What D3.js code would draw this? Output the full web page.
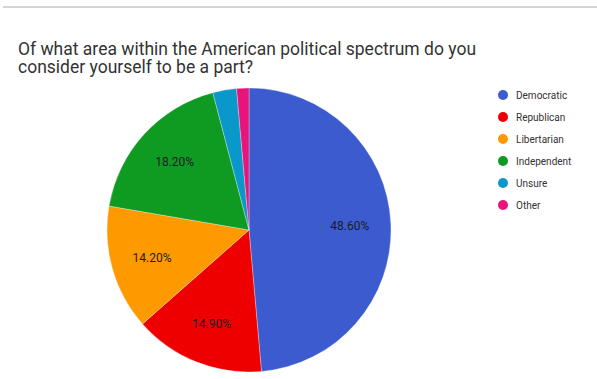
<!DOCTYPE html>
<html>
<head>
<meta charset="utf-8">
<script src="https://cdn.jsdelivr.net/npm/d3@7"></script>
<style>
  body { margin: 0; background: #fff; }
  svg { display: block; font-family: Roboto, Arial, sans-serif; }
</style>
</head>
<body>
<div id="container"></div>
<script>
/* CONSTANTS AND GLOBALS */
const width = 597,
  height = 379;

/* DATA */
const parties = ['Democratic', 'Republican', 'Libertarian', 'Independent', 'Unsure', 'Other'];
const shares = [48.6, 14.9, 14.2, 18.2, 2.7, 1.4];
const colors = ['#3b5bcf', '#ee0000', '#ff9900', '#0f9a22', '#0a97c9', '#e8147a'];
const titleLines = [
  'Of what area within the American political spectrum do you',
  'consider yourself to be a part?'
];

const data = parties.map((p, i) => ({ party: p, value: shares[i], color: colors[i] }));

// CREATE SVG ELEMENT
const svg = d3.select('#container')
  .append('svg')
  .attr('width', width)
  .attr('height', height);

// top rule
svg.append('rect')
  .attr('x', 3).attr('y', 6)
  .attr('width', width - 3).attr('height', 2)
  .attr('fill', '#d4d4d4');

// TITLE
svg.append('text')
  .attr('x', 18).attr('y', 55)
  .attr('font-size', 17.5)
  .attr('fill', '#333')
  .selectAll('tspan')
  .data(titleLines)
  .join('tspan')
  .attr('x', 18)
  .attr('dy', (d, i) => i === 0 ? 0 : 18)
  .text(d => d);

// PIE
const cx = 249, cy = 230, r = 142;

const pie = d3.pie()
  .sort(null)
  .value(d => d.value);

const arc = d3.arc()
  .innerRadius(0)
  .outerRadius(r);

const labelArc = d3.arc()
  .innerRadius(r * 0.71)
  .outerRadius(r * 0.71);

const g = svg.append('g')
  .attr('transform', `translate(${cx}, ${cy})`);

const arcs = pie(data);

g.selectAll('path')
  .data(arcs)
  .join('path')
  .attr('d', arc)
  .attr('fill', d => d.data.color)
  .attr('stroke', '#fff')
  .attr('stroke-width', 0.3);

g.selectAll('text')
  .data(arcs.filter(d => d.data.value > 5))
  .join('text')
  .attr('transform', d => `translate(${labelArc.centroid(d)})`)
  .attr('text-anchor', 'middle')
  .attr('dy', '0.35em')
  .attr('font-size', 12)
  .attr('fill', '#1c1c2c')
  .text(d => d.data.value.toFixed(2) + '%');

// LEGEND
const legend = svg.append('g')
  .attr('transform', 'translate(503, 95)');

const item = legend.selectAll('g')
  .data(data)
  .join('g')
  .attr('transform', (d, i) => `translate(0, ${i * 22})`);

item.append('circle')
  .attr('r', 5)
  .attr('fill', d => d.color);

item.append('text')
  .attr('x', 13)
  .attr('dy', '0.35em')
  .attr('font-size', 10)
  .attr('fill', '#333')
  .text(d => d.party);
</script>
</body>
</html>
